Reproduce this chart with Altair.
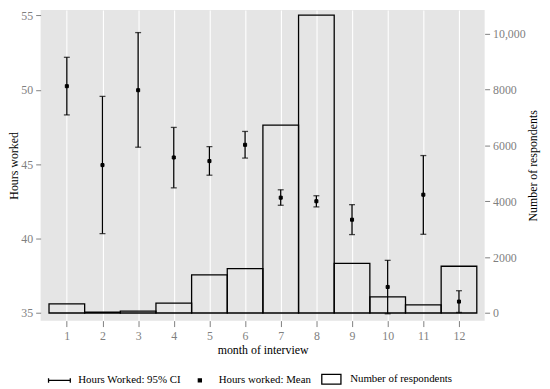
import altair as alt
import pandas as pd

months = list(range(1, 13))
mean_hours = [50.24, 44.94, 49.97, 45.45, 45.21, 46.30, 42.75, 42.51, 41.27, 36.75, 42.95, 35.77]
ci_low = [48.31, 40.34, 46.14, 43.41, 44.26, 45.41, 42.24, 42.13, 40.27, 34.95, 40.29, 35.04]
ci_high = [52.18, 49.55, 53.84, 47.47, 46.18, 47.20, 43.28, 42.88, 42.28, 38.54, 45.58, 36.50]
respondents = [330, 35, 70, 355, 1365, 1590, 6730, 10670, 1780, 575, 290, 1675]

legend_labels = ["Hours Worked: 95% CI", "Hours worked: Mean", "Number of respondents"]
legend_shapes = [
    "M-1,0H1M-1,-0.2V0.2M1,-0.2V0.2",
    "M-0.14,-0.14H0.14V0.14H-0.14Z",
    "M-0.88,-0.44H0.88V0.44H-0.88Z",
]
legend_fills = ["transparent", "black", "white"]

df = pd.DataFrame({
    "month": months,
    "mean": mean_hours,
    "lo": ci_low,
    "hi": ci_high,
    "n": respondents,
})
df["series"] = legend_labels[1]

FONT = "Liberation Serif, Times New Roman, serif"
GREY = "#7f7f7f"

x_scale = alt.Scale(domain=[0.265, 12.72], nice=False, zero=False)
x_axis = alt.Axis(values=months, title="month of interview", format="d")
x_enc = alt.X("month:Q", scale=x_scale, axis=x_axis)
y_hours_scale = alt.Scale(domain=[34.49, 55.35], nice=False, zero=False)
y_resp_scale = alt.Scale(domain=[-273, 10850], nice=False, zero=False)

base = alt.Chart(df)

bars = base.transform_calculate(
    x0="datum.month - 0.5", x1="datum.month + 0.5"
).mark_bar(fill="transparent", stroke="black", strokeWidth=1.3).encode(
    x=alt.X("x0:Q", scale=x_scale, axis=x_axis),
    x2="x1:Q",
    y=alt.Y("n:Q", scale=y_resp_scale,
            axis=alt.Axis(orient="right", title="Number of respondents",
                          values=[0, 2000, 4000, 6000, 8000, 10000], grid=False,
                          labelExpr="datum.value >= 10000 ? format(datum.value, ',') : format(datum.value, 'd')",
                          titleAngle=-90)),
    y2=alt.datum(0),
)

rules = base.mark_rule(color="black", strokeWidth=1.3).encode(
    x=x_enc,
    y=alt.Y("lo:Q", scale=y_hours_scale,
            axis=alt.Axis(orient="left", title="Hours worked", values=[35, 40, 45, 50, 55])),
    y2="hi:Q",
)
caps_lo = base.mark_tick(orient="horizontal", color="black", size=6, thickness=1.3).encode(
    x=x_enc, y=alt.Y("lo:Q", scale=y_hours_scale)
)
caps_hi = base.mark_tick(orient="horizontal", color="black", size=6, thickness=1.3).encode(
    x=x_enc, y=alt.Y("hi:Q", scale=y_hours_scale)
)
leg = alt.Legend(title=None, orient="none", direction="horizontal", legendX=7, legendY=361)
points = base.mark_point(stroke="black", strokeWidth=1, size=484, opacity=1).encode(
    x=x_enc,
    y=alt.Y("mean:Q", scale=y_hours_scale),
    shape=alt.Shape("series:N", scale=alt.Scale(domain=legend_labels, range=legend_shapes), legend=leg),
    fill=alt.Fill("series:N", scale=alt.Scale(domain=legend_labels, range=legend_fills), legend=leg),
)

hours_layer = alt.layer(rules, caps_lo, caps_hi, points)

chart = alt.layer(bars, hours_layer).resolve_scale(
    y="independent"
).properties(
    width=449, height=314,
    autosize=alt.AutoSizeParams(type="none"),
    padding={"left": 33, "top": 0, "right": 58, "bottom": 67},
    background="white",
).configure_view(
    fill="#e5e5e5", stroke=None
).configure_axis(
    labelFont=FONT, titleFont=FONT, labelFontSize=12, titleFontSize=12,
    labelColor=GREY, tickColor=GREY, tickSize=5, domain=False,
    gridColor="white", gridWidth=1.1, titleColor="black", titleFontWeight="normal",
    labelPadding=3,
).configure_axisLeft(
    titlePadding=0,
).configure_axisRight(
    titlePadding=14,
).configure_axisX(
    grid=True, titlePadding=3, tickSize=6, labelPadding=4,
).configure_legend(
    labelFont=FONT, labelFontSize=11, labelColor="black", labelOffset=7,
    columnPadding=7, symbolStrokeWidth=1.3, symbolSize=484,
)

chart.save("out.html", embed_options={"renderer": "svg", "actions": False})
